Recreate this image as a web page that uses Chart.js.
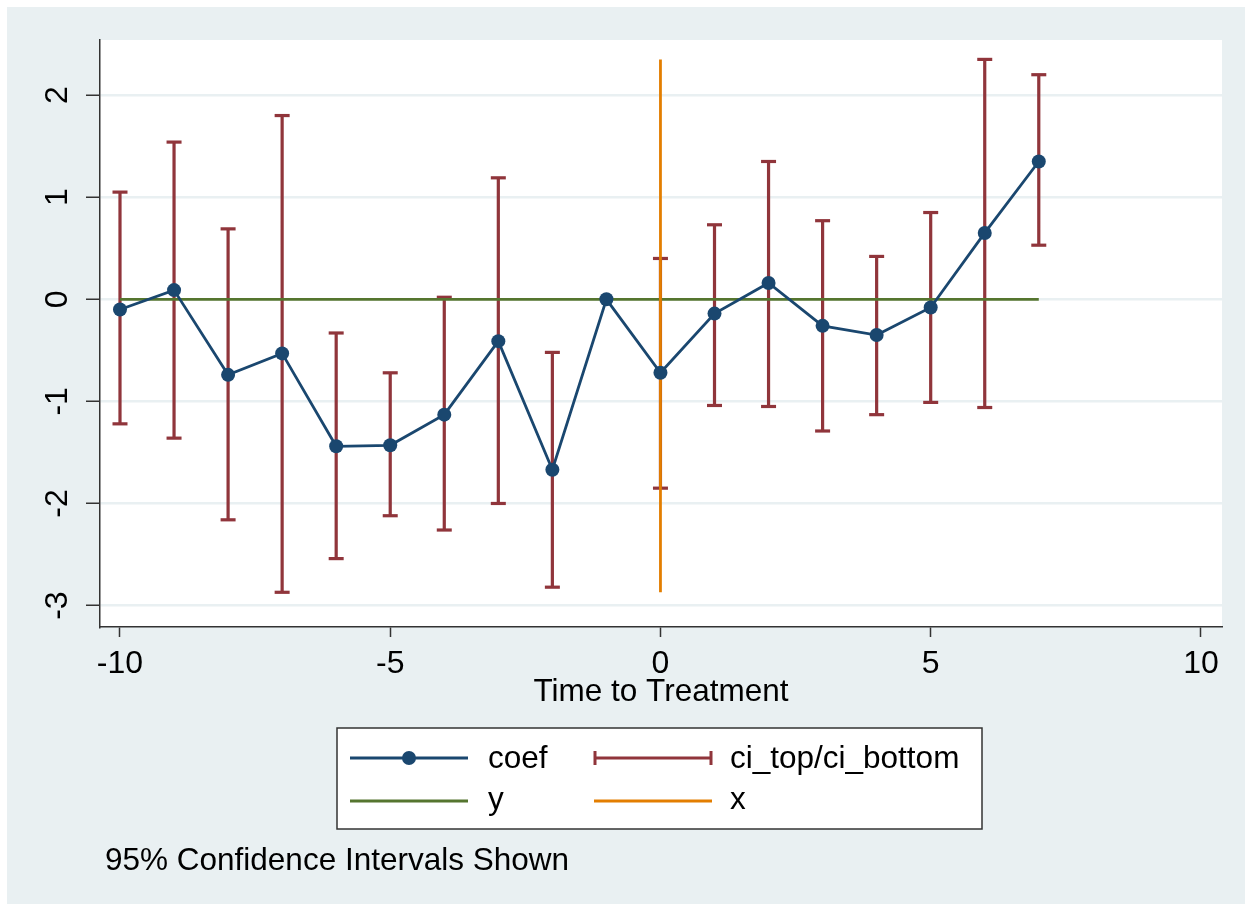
<!DOCTYPE html>
<html>
<head>
<meta charset="utf-8">
<script src="https://cdn.jsdelivr.net/npm/chart.js@4/dist/chart.umd.min.js"></script>
<style>
  html, body { margin: 0; padding: 0; background: #fff; }
  #wrap { width: 1252px; height: 911px; }
</style>
</head>
<body>
<div id="wrap"><canvas id="chartEventStudy"></canvas></div>
<script>
// periods relative to treatment
const periods = [-10, -9, -8, -7, -6, -5, -4, -3, -2, -1, 0, 1, 2, 3, 4, 5, 6, 7];
const coef = [-0.10, 0.09, -0.74, -0.53, -1.44, -1.43, -1.13, -0.41, -1.67, 0.00,
              -0.72, -0.14, 0.16, -0.26, -0.35, -0.08, 0.65, 1.35];
// 95% CI bounds (t = -1 is the omitted period, no interval)
const ciTop = [1.05, 1.54, 0.69, 1.80, -0.33, -0.72, 0.02, 1.19, -0.52, null,
               0.40, 0.73, 1.35, 0.77, 0.42, 0.85, 2.35, 2.20];
const ciBottom = [-1.22, -1.36, -2.16, -2.87, -2.54, -2.12, -2.26, -2.00, -2.82, null,
                  -1.85, -1.04, -1.05, -1.29, -1.13, -1.01, -1.06, 0.53];
// reference lines
const yLineX = [-10, 7];
const yLineY = [0, 0];
const xLineX = [0, 0];
const xLineY = [-2.87, 2.35];

const xTicks = [-10, -5, 0, 5, 10];
const yTicks = [-3, -2, -1, 0, 1, 2];

const NAVY = "#1a476f";
const MAROON = "#90353b";
const GREEN = "#55752f";
const ORANGE = "#e37e00";
const BLUISH = "#e9f0f2";
const AXIS = "#333333";
const FONT = "'Liberation Sans', Arial, sans-serif";

// rcap: top, bottom, gap for each period
const ciPoints = [];
for (let i = 0; i < periods.length; i++) {
  if (ciTop[i] === null) continue;
  ciPoints.push({ x: periods[i], y: ciTop[i] });
  ciPoints.push({ x: periods[i], y: ciBottom[i] });
  ciPoints.push({ x: periods[i], y: null });
}

const pairs = (xs, ys) => xs.map((x, i) => ({ x: x, y: ys[i] }));

// graph region + white plot region
const backgroundPlugin = {
  id: "stataBackground",
  beforeDraw(chart) {
    const { ctx, chartArea } = chart;
    ctx.save();
    ctx.fillStyle = "#ffffff";
    ctx.fillRect(0, 0, chart.width, chart.height);
    ctx.fillStyle = BLUISH;
    ctx.fillRect(7, 7, chart.width - 14, chart.height - 14);
    ctx.fillStyle = "#ffffff";
    ctx.fillRect(chartArea.left, chartArea.top,
      chartArea.right - chartArea.left, chartArea.bottom - chartArea.top);
    ctx.restore();
  },
};

// legend box and note under the x axis
const legendPlugin = {
  id: "stataLegend",
  afterDraw(chart) {
    const ctx = chart.ctx;
    ctx.save();
    ctx.fillStyle = "#ffffff";
    ctx.fillRect(337, 728, 645, 101);
    ctx.strokeStyle = AXIS;
    ctx.lineWidth = 1.5;
    ctx.strokeRect(337, 728, 645, 101);

    const row1 = 758, row2 = 801;
    const seg = (x1, x2, y, color) => {
      ctx.strokeStyle = color;
      ctx.lineWidth = 2.8;
      ctx.beginPath();
      ctx.moveTo(x1, y);
      ctx.lineTo(x2, y);
      ctx.stroke();
    };
    seg(350, 468, row1, NAVY);
    ctx.fillStyle = NAVY;
    ctx.beginPath();
    ctx.arc(409, row1, 7, 0, Math.PI * 2);
    ctx.fill();

    seg(594, 712, row1, MAROON);
    ctx.lineWidth = 3;
    ctx.beginPath();
    ctx.moveTo(595, row1 - 7); ctx.lineTo(595, row1 + 7);
    ctx.moveTo(711, row1 - 7); ctx.lineTo(711, row1 + 7);
    ctx.stroke();

    seg(350, 468, row2, GREEN);
    seg(594, 712, row2, ORANGE);

    ctx.fillStyle = "#000";
    ctx.font = "31.5px " + FONT;
    ctx.textBaseline = "middle";
    ctx.textAlign = "left";
    ctx.fillText("coef", 488, row1 + 1);
    ctx.fillText("ci_top/ci_bottom", 730, row1 + 1);
    ctx.fillText("y", 488, row2 - 1);
    ctx.fillText("x", 730, row2 - 1);

    ctx.fillText("95% Confidence Intervals Shown", 105, 861);
    ctx.restore();
  },
};

const ctx_es = document.getElementById("chartEventStudy");

const myChart = new Chart(ctx_es, {
  type: "line",
  data: {
    datasets: [
      {
        label: "coef",
        data: pairs(periods, coef),
        borderColor: NAVY,
        backgroundColor: NAVY,
        borderWidth: 2.8,
        pointRadius: 7,
        pointBorderWidth: 0,
        pointBackgroundColor: NAVY,
        tension: 0,
        order: 0,
      },
      {
        label: "x",
        data: pairs(xLineX, xLineY),
        borderColor: ORANGE,
        borderWidth: 2.8,
        pointRadius: 0,
        order: 1,
      },
      {
        label: "y",
        data: pairs(yLineX, yLineY),
        borderColor: GREEN,
        borderWidth: 2.8,
        pointRadius: 0,
        order: 2,
      },
      {
        label: "ci_top/ci_bottom",
        data: ciPoints,
        borderColor: MAROON,
        borderWidth: 3.2,
        spanGaps: false,
        pointStyle: "line",
        pointRadius: 7.5,
        pointBorderWidth: 3.2,
        pointBorderColor: MAROON,
        order: 3,
      },
    ],
  },
  options: {
    responsive: true,
    maintainAspectRatio: false,
    animation: false,
    events: [],
    layout: { padding: { left: 0, right: 30, top: 40, bottom: 200 } },
    plugins: {
      legend: { display: false },
      tooltip: { enabled: false },
    },
    scales: {
      x: {
        type: "linear",
        min: -10.37,
        max: 10.39,
        afterBuildTicks: (scale) => {
          scale.ticks = xTicks.map((v) => ({ value: v }));
        },
        afterFit: (scale) => {
          scale.height = 84;
        },
        grid: {
          drawOnChartArea: false,
          tickLength: 10,
          tickColor: AXIS,
          tickWidth: 1.5,
        },
        border: { display: true, color: AXIS, width: 1.5 },
        ticks: {
          color: "#000",
          font: { family: FONT, size: 32 },
          padding: 8,
          maxRotation: 0,
          autoSkip: false,
        },
        title: {
          display: true,
          text: "Time to Treatment",
          color: "#000",
          font: { family: FONT, size: 31.5 },
          padding: { top: 0, bottom: 0 },
        },
      },
      y: {
        type: "linear",
        min: -3.21,
        max: 2.54,
        afterBuildTicks: (scale) => {
          scale.ticks = yTicks.map((v) => ({ value: v }));
        },
        afterFit: (scale) => {
          scale.width = 100;
        },
        grid: {
          color: BLUISH,
          lineWidth: 2.5,
          tickLength: 14,
          tickColor: AXIS,
          tickWidth: 1.5,
        },
        border: { display: true, color: AXIS, width: 1.5 },
        ticks: {
          color: "#000",
          font: { family: FONT, size: 32 },
          padding: 14,
          minRotation: 90,
          maxRotation: 90,
          crossAlign: "center",
          autoSkip: false,
        },
      },
    },
  },
  plugins: [backgroundPlugin, legendPlugin],
});
</script>
</body>
</html>
